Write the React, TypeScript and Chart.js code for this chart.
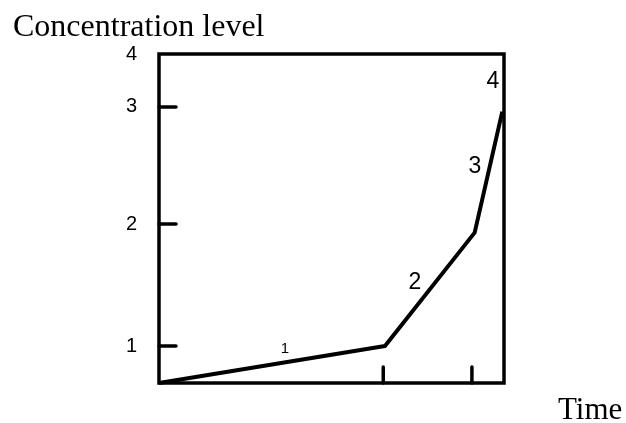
import { useEffect, useRef } from "react";
import { Chart, registerables, LinearScale } from "chart.js";

// Time at each corner of the curve and the concentration level reached there
const times = [0, 6.55, 9.15, 9.95];
const levels = [0, 1, 1.93, 2.96];

// Level ticks on the left axis and the time marks on the bottom axis
const levelTicks = [1, 2, 3, 4];
const levelTickLabels = ["1", "2", "3", "4"];
const timeTicks = [6.5, 9.07];

// Stage numbers written beside the curve
const stageTimes = [3.65, 7.42, 9.16, 9.68];
const stageLevels = [0.93, 1.52, 2.49, 3.47];
const stageLabels = ["1", "2", "3", "4"];

// The sketched level axis is unevenly spaced: share of the axis height at each whole level
const LEVEL_SPACING = [0, 0.1125, 0.483, 0.839, 1];
const STAGE_FONT_SIZES = [15, 23, 23, 23];

// Linear scale whose whole-number steps follow LEVEL_SPACING instead of equal gaps
class SketchLevelScale extends LinearScale {
  static id = "sketchLevel";
  static defaults = LinearScale.defaults;

  getPixelForValue(value: number) {
    if (value === null || value === undefined || isNaN(value)) return NaN;
    const last = LEVEL_SPACING.length - 1;
    const v = Math.max(0, Math.min(last, value - this.min));
    const i = Math.min(Math.floor(v), last - 1);
    const f = LEVEL_SPACING[i] + (v - i) * (LEVEL_SPACING[i + 1] - LEVEL_SPACING[i]);
    return this.getPixelForDecimal(f);
  }

  getValueForPixel(pixel: number) {
    const d = this.getDecimalForPixel(pixel);
    for (let i = 0; i < LEVEL_SPACING.length - 1; i++) {
      const a = LEVEL_SPACING[i];
      const b = LEVEL_SPACING[i + 1];
      if (d <= b || i === LEVEL_SPACING.length - 2) {
        return this.min + i + (d - a) / (b - a);
      }
    }
    return this.max;
  }
}

Chart.register(...registerables, SketchLevelScale);

const sketchPlugin = {
  id: "sketchFrame",
  afterDatasetsDraw(chart: any) {
    const { ctx, chartArea: a, scales } = chart;
    const x = scales.x;
    const y = scales.y;
    ctx.save();
    ctx.strokeStyle = "#000";
    ctx.fillStyle = "#000";

    // closed frame round the plot
    ctx.lineWidth = 3.5;
    ctx.lineJoin = "miter";
    ctx.strokeRect(a.left, a.top, a.right - a.left, a.bottom - a.top);

    // tick marks pointing into the plot
    ctx.lineCap = "round";
    ctx.lineWidth = 3.5;
    const seg = (x1: number, y1: number, x2: number, y2: number) => {
      ctx.beginPath();
      ctx.moveTo(x1, y1);
      ctx.lineTo(x2, y2);
      ctx.stroke();
    };
    levelTicks
      .filter((v) => v < y.max)
      .forEach((v) => {
        const py = y.getPixelForValue(v);
        seg(a.left, py, a.left + 17, py);
      });
    timeTicks.forEach((v) => {
      const px = x.getPixelForValue(v);
      seg(px, a.bottom, px, a.bottom - 16);
    });

    // stage numbers
    ctx.textAlign = "center";
    ctx.textBaseline = "middle";
    stageLabels.forEach((t, i) => {
      ctx.font = `${STAGE_FONT_SIZES[i]}px "Liberation Sans", sans-serif`;
      ctx.fillText(t, x.getPixelForValue(stageTimes[i]), y.getPixelForValue(stageLevels[i]));
    });

    // axis titles
    ctx.textAlign = "left";
    ctx.textBaseline = "alphabetic";
    ctx.font = '32px "Liberation Serif", serif';
    ctx.fillText("Concentration level", 13, 36);
    ctx.font = '31px "Liberation Serif", serif';
    ctx.fillText("Time", a.right + 54, a.bottom + 36);
    ctx.restore();
  },
};

export default function App() {
  const ref = useRef<HTMLCanvasElement>(null);

  useEffect(() => {
    const chart = new Chart(ref.current as HTMLCanvasElement, {
      type: "line",
      data: {
        datasets: [
          {
            data: times.map((t, i) => ({ x: t, y: levels[i] })),
            borderColor: "#000",
            borderWidth: 4,
            borderJoinStyle: "round",
            pointRadius: 0,
            tension: 0,
            fill: false,
            clip: false,
          } as any,
        ],
      },
      options: {
        animation: false,
        responsive: false,
        devicePixelRatio: 1,
        layout: { padding: { top: 54, right: 122, bottom: 0, left: 0 } },
        plugins: { legend: { display: false }, tooltip: { enabled: false } },
        events: [],
        scales: {
          x: {
            type: "linear",
            min: 0,
            max: 10,
            grid: { display: false, drawTicks: false },
            border: { display: false },
            ticks: { display: false },
            afterBuildTicks: (s: any) => {
              s.ticks = timeTicks.map((v) => ({ value: v }));
            },
            afterFit: (s: any) => {
              s.height = 40;
            },
          },
          y: {
            type: "sketchLevel" as any,
            min: 0,
            max: 4,
            grid: { display: false, drawTicks: false },
            border: { display: false },
            ticks: {
              padding: 22,
              color: "#000",
              font: { family: '"Liberation Sans", sans-serif', size: 20 },
              callback: (v: any) => levelTickLabels[levelTicks.indexOf(Number(v))],
            },
            afterBuildTicks: (s: any) => {
              s.ticks = levelTicks.map((v) => ({ value: v }));
            },
            afterFit: (s: any) => {
              s.width = 159;
            },
          },
        },
      } as any,
      plugins: [sketchPlugin],
    });
    return () => chart.destroy();
  }, []);

  return (
    <div style={{ position: "absolute", left: 0, top: 0, width: 626, height: 423, background: "#fff" }}>
      <canvas ref={ref} width={626} height={423} style={{ display: "block" }} />
    </div>
  );
}
